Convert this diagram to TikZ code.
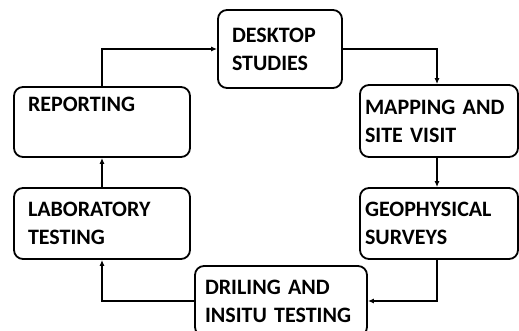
\documentclass[tikz,border=0pt]{standalone}
\usepackage{fontspec}
\setmainfont{Carlito}
\usetikzlibrary{arrows.meta}

\begin{document}
\begin{tikzpicture}[x=1pt,y=-1pt,
    stage/.style={draw,line width=1.8pt,rounded corners=9pt,align=left,
      inner xsep=14pt,inner ysep=0pt,
      font=\fontsize{22}{28}\selectfont\bfseries},
    flow/.style={line width=1.3pt,-{Latex[length=6pt,width=5pt]}}]
  \useasboundingbox (0,0) rectangle (519,331);
  % the six stages
  \node[stage,text width=96pt,minimum height=78pt] (desk) at (280,49) {DESKTOP\\STUDIES};
  \node[stage,text width=148pt,minimum height=70pt] (rep) at (102,122) {REPORTING\\\strut};
  \node[stage,inner xsep=5pt,text width=148pt,minimum height=72pt] (map) at (439,121) {MAPPING AND\\SITE VISIT};
  \node[stage,text width=148pt,minimum height=71pt] (lab) at (102,223.5) {LABORATORY\\TESTING};
  \node[stage,inner xsep=5pt,text width=148pt,minimum height=71pt] (geo) at (439,223.5) {GEOPHYSICAL\\SURVEYS};
  \node[stage,inner xsep=10pt,text width=152pt,minimum height=70pt] (dril) at (281,301) {DRILING AND\\INSITU~TESTING};
  % clockwise loop
  \draw[flow] (desk.east) -| ([xshift=-2pt]map.north);
  \draw[flow] ([xshift=-2pt]map.south) -- ([xshift=-2pt]geo.north);
  \draw[flow] ([xshift=-2pt]geo.south) |- (dril.east);
  \draw[flow] (dril.west) -| (lab.south);
  \draw[flow] (lab.north) -- (rep.south);
  \draw[flow] (rep.north) |- (desk.west);
\end{tikzpicture}
\end{document}
